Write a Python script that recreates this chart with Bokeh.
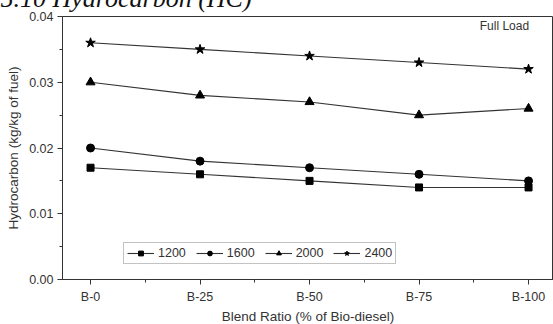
from bokeh.plotting import figure
from bokeh.models import FixedTicker, Label, Range1d, Legend, LegendItem
from bokeh.embed import file_html
from bokeh.resources import INLINE

categories = ["B-0", "B-25", "B-50", "B-75", "B-100"]
x_pos = [0, 1, 2, 3, 4]
s1200 = [0.017, 0.016, 0.015, 0.014, 0.014]
s1600 = [0.020, 0.018, 0.017, 0.016, 0.015]
s2000 = [0.030, 0.028, 0.027, 0.025, 0.026]
s2400 = [0.036, 0.035, 0.034, 0.033, 0.032]
y_ticks = [0.00, 0.01, 0.02, 0.03, 0.04]

FONT = "Liberation Sans"
TXT = "#333333"

p = figure(width=553, height=354, output_backend="svg", toolbar_location=None,
           x_range=Range1d(-0.256, 4.228), y_range=Range1d(0, 0.04),
           title="5.10 Hydrocarbon (HC)",
           min_border_left=62, min_border_top=44, min_border_bottom=45, min_border_right=0)
p.styles = {"margin-top": "-28px"}
p.title.text_font = "Liberation Serif"
p.title.text_font_style = "italic"
p.title.text_font_size = "26px"
p.title.text_color = "#111111"
p.title.align = "left"
p.title.offset = -62
p.title.standoff = 7
p.title.vertical_align = "bottom"

p.grid.visible = False
p.outline_line_color = "#333333"
p.outline_line_width = 1
p.background_fill_color = "white"
p.border_fill_color = "white"

p.xaxis.ticker = FixedTicker(ticks=x_pos, minor_ticks=[0.5, 1.5, 2.5, 3.5])
p.xaxis.major_label_overrides = {i: c for i, c in zip(x_pos, categories)}
p.yaxis.ticker = FixedTicker(ticks=y_ticks, minor_ticks=[0.005, 0.015, 0.025, 0.035])
p.yaxis.major_label_overrides = {v: f"{v:.2f}" for v in y_ticks}

for ax in (p.xaxis[0], p.yaxis[0]):
    ax.axis_line_color = "#333333"
    ax.major_tick_line_color = "#333333"
    ax.minor_tick_line_color = "#333333"
    ax.major_tick_out = 5
    ax.major_tick_in = 0
    ax.minor_tick_out = 3
    ax.minor_tick_in = 0
    ax.major_label_text_font = FONT
    ax.major_label_text_font_size = "12.5px"
    ax.major_label_text_color = TXT
    ax.axis_label_text_font = FONT
    ax.axis_label_text_font_size = "13.5px"
    ax.axis_label_text_font_style = "normal"
    ax.axis_label_text_color = TXT

p.xaxis.axis_label = "Blend Ratio (% of Bio-diesel)"
p.xaxis.axis_label_standoff = 2
p.xaxis.major_label_standoff = 5
p.yaxis.axis_label = "Hydrocarbon (kg/kg of fuel)"
p.yaxis.axis_label_standoff = 5
p.yaxis.major_label_standoff = 4

LC = "#333333"
series = [("1200", s1200, "square", 7), ("1600", s1600, "circle", 8),
          ("2000", s2000, "triangle", 9), ("2400", s2400, "star", 10)]
items = []
for name, ys, marker, size in series:
    r1 = p.line(x_pos, ys, line_color=LC, line_width=1.1)
    r2 = p.scatter(x_pos, ys, marker=marker, size=size, fill_color="black", line_color="black")
    items.append(LegendItem(label=name, renderers=[r1, r2]))

legend = Legend(items=items, orientation="horizontal", location=(61, 15))
legend.label_text_font = FONT
legend.label_text_font_size = "12.5px"
legend.label_text_color = TXT
legend.glyph_width = 27
legend.glyph_height = 12
legend.label_standoff = 4
legend.spacing = 10
legend.padding = 3
legend.margin = 0
legend.border_line_color = "#888888"
legend.border_line_width = 1
legend.background_fill_color = "white"
legend.background_fill_alpha = 1
p.add_layout(legend, "center")

p.add_layout(Label(x=3.78, y=0.0385, text="Full Load", text_font=FONT, text_font_size="12px",
                   text_color=TXT, text_align="center", text_baseline="middle"))

open("out.html", "w").write(file_html(p, INLINE))
